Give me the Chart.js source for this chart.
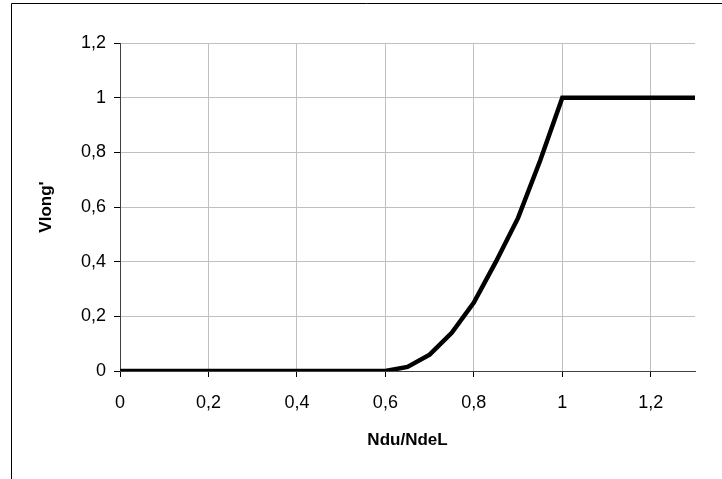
<!DOCTYPE html>
<html>
<head>
<meta charset="utf-8">
<script src="https://cdn.jsdelivr.net/npm/chart.js@4"></script>
<style>
  html, body { margin: 0; padding: 0; background: #fff; }
</style>
</head>
<body>
<canvas id="chart" width="722" height="479"></canvas>
<script>
// Vlong' against Ndu/NdeL
const ratio = [0, 0.6, 0.65, 0.7, 0.75, 0.8, 0.85, 0.9, 0.95, 1.0, 1.3];
const vlong = [0, 0, 0.015, 0.06, 0.14, 0.25, 0.40, 0.56, 0.77, 1.0, 1.0];

const xTitle = "Ndu/NdeL";
const yTitle = "Vlong'";

const font = { family: "'Liberation Sans', Arial, sans-serif", size: 18 };
const fmt = v => String(Math.round(v * 10) / 10).replace(".", ",");

const points = ratio.map((x, i) => ({ x: x, y: vlong[i] }));

// outer frame of the chart area (left and top edges are the visible ones)
const frame = {
  id: "frame",
  afterDraw(chart) {
    const ctx = chart.ctx;
    ctx.save();
    ctx.strokeStyle = "#000";
    ctx.lineWidth = 1;
    ctx.beginPath();
    ctx.moveTo(11.5, chart.height);
    ctx.lineTo(11.5, 3.5);
    ctx.lineTo(chart.width, 3.5);
    ctx.stroke();
    ctx.restore();
  },
};

new Chart(document.getElementById("chart"), {
  type: "scatter",
  data: {
    datasets: [{
      data: points,
      showLine: true,
      borderColor: "#000",
      borderWidth: 4.5,
      pointRadius: 0,
      tension: 0,
    }],
  },
  options: {
    responsive: false,
    animation: false,
    layout: { padding: { top: 43, right: 27, left: 0, bottom: 0 } },
    plugins: { legend: { display: false }, tooltip: { enabled: false } },
    scales: {
      x: {
        type: "linear",
        min: 0,
        max: 1.3,
        afterFit: s => { s.height = 108; },
        grid: { color: "#c0c0c0", tickColor: "#000", tickLength: 6 },
        border: { color: "#404040", width: 1 },
        ticks: {
          stepSize: 0.2,
          includeBounds: false,
          color: "#000",
          font: font,
          padding: 15,
          callback: fmt,
        },
        title: {
          display: true,
          text: xTitle,
          color: "#000",
          font: { family: font.family, size: 17, weight: "bold" },
          padding: { top: 0, bottom: 28 },
        },
      },
      y: {
        min: 0,
        max: 1.2,
        afterFit: s => { s.width = 120; },
        grid: { color: "#c0c0c0", tickColor: "#000", tickLength: 6 },
        border: { color: "#404040", width: 1 },
        ticks: {
          stepSize: 0.2,
          color: "#000",
          font: font,
          padding: 8,
          callback: fmt,
        },
        title: {
          display: true,
          text: yTitle,
          color: "#000",
          font: { family: font.family, size: 17, weight: "bold" },
          padding: { top: 36, bottom: 0 },
        },
      },
    },
  },
  plugins: [frame],
});
</script>
</body>
</html>
